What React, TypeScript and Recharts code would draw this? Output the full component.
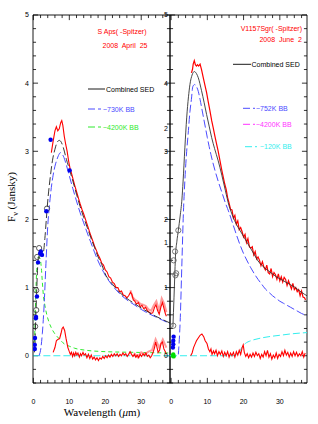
import { ComposedChart, Line, Scatter, XAxis, YAxis, ReferenceLine, ReferenceArea } from "recharts"

// axis ticks (shared by both panels)
const xMajor = [0, 10, 20, 30]
const xMinor = [2, 4, 6, 8, 12, 14, 16, 18, 22, 24, 26, 28, 32, 34, 36]
const yMajor = [0, 1, 2, 3, 4, 5]
const yMinor = [
  -0.4, -0.2, 0.2, 0.4, 0.6, 0.8, 1.2, 1.4, 1.6, 1.8, 2.2, 2.4, 2.6, 2.8,
  3.2, 3.4, 3.6, 3.8, 4.2, 4.4, 4.6, 4.8,
]
// labels printed along the shared middle axis
const dividerTicks = [5, 4, 3.33, 3, 2, 1.66, 1, 0]
const dividerLabels = ["5", "4", "2", "3", "2", "1", "1", "0"]

// ---- S Aps (left panel) ----
const apsSpecWl = [
  5.0, 5.5, 6.0, 6.4, 6.8, 7.2, 7.6, 7.9, 8.2, 8.6, 9.0, 9.4, 9.8, 10.2, 10.6,
  11.0, 11.5, 12.0, 12.5, 13.0, 13.5, 14.0, 14.5, 15.0, 15.5, 16.0, 16.5, 17.0,
  17.5, 18.0, 18.5, 19.0, 19.5, 20.0, 20.5, 21.0, 21.5, 22.0, 22.5, 23.0, 23.5,
  24.0, 24.5, 25.0, 25.5, 26.0, 26.5, 27.0, 27.4, 27.8, 28.2, 28.7, 29.2, 29.7,
  30.2, 30.7, 31.2, 31.7, 32.2, 32.7, 33.2, 33.7, 34.1, 34.5, 35.0, 35.5, 35.9,
  36.3, 36.7, 37.0,
]
const apsSpecFlux = [
  2.98, 3.15, 3.3, 3.36, 3.3, 3.33, 3.42, 3.45, 3.38, 3.22, 3.1, 3.0, 2.86, 2.75,
  2.68, 2.6, 2.5, 2.41, 2.32, 2.23, 2.15, 2.08, 2.0, 1.92, 1.84, 1.76, 1.69, 1.61,
  1.55, 1.48, 1.43, 1.36, 1.33, 1.26, 1.23, 1.16, 1.14, 1.08, 1.06, 1.0, 1.0,
  0.94, 0.95, 0.89, 0.88, 0.85, 0.88, 0.93, 0.9, 0.82, 0.8, 0.76, 0.78, 0.72,
  0.74, 0.69, 0.71, 0.66, 0.64, 0.62, 0.63, 0.71, 0.75, 0.67, 0.61, 0.72, 0.78,
  0.7, 0.62, 0.58,
]
const apsSpecErrWl = [27, 27.6, 28.3, 29, 29.8, 30.5, 31.3, 32, 32.8, 33.5, 34.2, 35, 35.7, 36.4, 37]
const apsSpecErrFlux = [
  0.96, 0.86, 0.82, 0.8, 0.76, 0.75, 0.73, 0.68, 0.66, 0.74, 0.8, 0.66, 0.84, 0.76, 0.64,
]
const apsResidWl = [
  5.5, 6.0, 6.4, 6.8, 7.3, 7.7, 8.0, 8.3, 8.7, 9.1, 9.6, 10.0, 10.3, 10.6, 10.9,
  11.2, 11.5, 11.8, 12.1, 12.4, 12.8, 13.1, 13.4, 13.8, 14.1, 14.5, 14.9, 15.3,
  15.7, 16.1, 16.5, 16.9, 17.3, 17.7, 18.1, 18.5, 18.9, 19.3, 19.7, 20.1, 20.5,
  20.9, 21.3, 21.7, 22.1, 22.5, 22.9, 23.3, 23.7, 24.1, 24.5, 24.9, 25.3, 25.7,
  26.1, 26.5, 26.9, 27.3, 27.7, 28.1, 28.5, 28.9, 29.3, 29.7, 30.1, 30.5, 30.9,
  31.3, 31.7, 32.1, 32.5, 32.9, 33.3, 33.7, 34.0, 34.3, 34.7, 35.1, 35.5, 35.9,
  36.3, 36.7, 37.0,
]
const apsResidFlux = [
  0.05, 0.12, 0.22, 0.24, 0.25, 0.33, 0.4, 0.42, 0.37, 0.25, 0.12, 0.06, 0.02,
  0.05, -0.01, 0.04, 0.0, 0.05, 0.01, 0.04, -0.02, 0.03, 0.0, 0.05, 0.01, 0.03,
  -0.03, 0.02, -0.04, 0.01, -0.05, -0.02, -0.06, -0.03, -0.07, -0.03, -0.05,
  -0.01, -0.04, 0.0, -0.03, 0.01, -0.02, 0.02, -0.01, 0.03, 0.0, 0.03, -0.01,
  0.02, 0.0, 0.04, 0.01, 0.03, -0.01, 0.02, 0.06, 0.02, -0.01, 0.02, -0.02, 0.01,
  -0.03, 0.02, -0.01, 0.03, 0.0, 0.04, -0.01, 0.01, -0.03, 0.0, 0.05, 0.12, 0.2,
  0.14, 0.05, 0.08, 0.18, 0.2, 0.1, 0.06, 0.02,
]
const apsResidErrWl = [28, 29, 30, 31, 32, 33, 34, 35, 36, 37]
const apsResidErrFlux = [0.04, -0.02, 0.05, 0.02, 0.06, 0.08, 0.24, 0.12, 0.24, 0.12]
const apsBb730Wl = [
  1.5, 2.0, 2.5, 3.0, 3.5, 4.0, 4.5, 5.0, 5.5, 6.0, 6.5, 7.0, 7.5, 8.0, 8.5, 9.0,
  10, 11, 12, 13, 14, 15, 16, 17, 18, 19, 20, 22, 24, 26, 28, 30, 32, 34, 36, 38,
]
const apsBb730Flux = [
  0.0, 0.08, 0.33, 0.75, 1.35, 1.9, 2.22, 2.47, 2.65, 2.78, 2.87, 2.94, 2.98,
  2.96, 2.91, 2.83, 2.64, 2.45, 2.27, 2.1, 1.95, 1.8, 1.66, 1.52, 1.39, 1.28,
  1.18, 1.03, 0.91, 0.82, 0.75, 0.68, 0.62, 0.57, 0.52, 0.47,
]
const apsBb4200Wl = [
  0.3, 0.5, 0.7, 1.0, 1.4, 1.9, 2.2, 2.5, 2.8, 3.2, 3.7, 4.3, 5.0, 6.0, 7.0, 8.7,
  10, 11.5, 14.7, 20, 28, 38,
]
const apsBb4200Flux = [
  0.1, 0.55, 0.95, 1.3, 1.45, 1.42, 1.3, 1.08, 0.88, 0.74, 0.61, 0.5, 0.41, 0.32,
  0.26, 0.17, 0.14, 0.11, 0.08, 0.06, 0.05, 0.04,
]
const apsCombinedWl = [
  0.3, 0.5, 0.7, 0.9, 1.1, 1.4, 1.8, 2.2, 2.7, 3.2, 3.6, 4.0, 4.7, 5.3, 6.0, 6.6,
  7.2, 7.8, 8.3, 9.2, 10, 11, 12, 13, 14, 15, 16, 17, 18, 19, 20, 22, 24, 26, 28,
  30, 32, 34, 36, 38,
]
const apsCombinedFlux = [
  0.05, 0.3, 0.6, 0.9, 1.2, 1.45, 1.55, 1.52, 1.5, 1.72, 2.0, 2.27, 2.62, 2.86,
  3.03, 3.13, 3.16, 3.13, 3.06, 2.88, 2.74, 2.56, 2.37, 2.19, 2.03, 1.88, 1.73,
  1.59, 1.45, 1.34, 1.2, 1.05, 0.93, 0.84, 0.77, 0.7, 0.64, 0.58, 0.53, 0.48,
]
const apsZeroWl = [0, 38]
const apsZeroFlux = [0, 0]
const apsDotWl = [0.4, 0.4, 0.45, 0.7, 0.75, 1.0, 1.3, 1.9, 2.1, 2.4, 3.6, 4.8, 10.1]
const apsDotFlux = [0.1, 0.16, 0.26, 0.55, 0.57, 0.87, 1.37, 1.5, 1.53, 1.48, 2.12, 3.17, 2.72]
const apsOpenWl = [0.5, 0.8, 0.8, 1.05, 1.6, 3.8]
const apsOpenFlux = [0.43, 0.67, 0.96, 1.45, 1.58, 2.16]

// ---- V1157 Sgr (right panel) ----
const sgrSpecWl = [
  5.6, 5.9, 6.1, 6.4, 6.7, 7.0, 7.3, 7.6, 8.0, 8.4, 8.8, 9.3, 9.8, 10.2, 10.7,
  11.2, 11.6, 12.1, 12.5, 13.0, 13.5, 14.0, 14.4, 14.8, 15.2, 15.6, 16.0, 16.4,
  16.8, 17.2, 17.6, 18.0, 18.4, 18.8, 19.2, 19.6, 20.0, 20.4, 20.8, 21.2, 21.6,
  22.0, 22.4, 22.8, 23.2, 23.6, 24.0, 24.4, 24.8, 25.2, 25.6, 26.0, 26.4, 26.8,
  27.2, 27.6, 28.0, 28.4, 28.8, 29.2, 29.6, 30.0, 30.4, 30.8, 31.2, 31.6, 32.0,
  32.4, 32.8, 33.2, 33.6, 34.0, 34.4, 34.8, 35.2, 35.6, 36.0, 36.4, 36.8, 37.1,
]
const sgrSpecFlux = [
  4.15, 4.2, 4.28, 4.33, 4.27, 4.25, 4.27, 4.25, 4.28, 4.2, 4.1, 3.98, 3.86, 3.74,
  3.6, 3.45, 3.35, 3.22, 3.12, 3.0, 2.86, 2.72, 2.62, 2.52, 2.44, 2.32, 2.24,
  2.15, 2.14, 2.02, 2.06, 1.93, 1.98, 1.85, 1.88, 1.82, 1.74, 1.78, 1.66, 1.72,
  1.6, 1.58, 1.6, 1.48, 1.53, 1.42, 1.45, 1.4, 1.32, 1.38, 1.3, 1.26, 1.33, 1.22,
  1.2, 1.28, 1.16, 1.22, 1.19, 1.12, 1.2, 1.1, 1.16, 1.08, 1.15, 1.12, 1.03, 1.1,
  1.04, 0.98, 1.06, 0.97, 1.0, 0.94, 0.97, 0.88, 0.95, 0.86, 0.85, 0.82,
]
const sgrResidWl = [
  5.4, 5.8, 6.2, 6.6, 7.0, 7.5, 8.0, 8.5, 9.0, 9.4, 9.9, 10.3, 10.7, 11.0, 11.3,
  11.7, 12.0, 12.4, 12.8, 13.2, 13.6, 14.0, 14.4, 14.8, 15.2, 15.6, 16.0, 16.4,
  16.8, 17.2, 17.6, 18.0, 18.4, 18.8, 19.2, 19.6, 19.9, 20.2, 20.6, 21.0, 21.4,
  21.8, 22.2, 22.6, 23.0, 23.4, 23.8, 24.2, 24.6, 25.0, 25.4, 25.8, 26.2, 26.6,
  27.0, 27.4, 27.8, 28.2, 28.6, 29.0, 29.4, 29.8, 30.2, 30.6, 31.0, 31.4, 31.8,
  32.2, 32.6, 33.0, 33.4, 33.8, 34.2, 34.6, 35.0, 35.4, 35.8, 36.2, 36.6, 37.0,
]
const sgrResidFlux = [
  0.0, 0.04, 0.12, 0.17, 0.22, 0.26, 0.3, 0.32, 0.28, 0.22, 0.18, 0.1, 0.06, 0.1,
  0.02, 0.07, 0.03, 0.08, 0.0, 0.06, 0.02, 0.07, -0.01, 0.05, 0.0, 0.06, -0.02,
  0.04, 0.0, 0.05, -0.02, 0.06, 0.01, 0.08, 0.02, 0.12, 0.16, 0.05, -0.01, 0.03,
  -0.03, 0.02, -0.02, 0.04, -0.01, 0.05, 0.0, 0.03, -0.04, 0.02, -0.02, 0.06,
  0.0, 0.08, -0.02, 0.03, -0.05, 0.01, -0.03, 0.04, -0.04, 0.02, -0.01, 0.06,
  0.0, 0.08, 0.01, 0.05, -0.02, 0.04, -0.01, 0.06, 0.0, 0.05, -0.01, 0.03, 0.0,
  0.06, -0.02, 0.04,
]
const sgrBb752Wl = [
  2.0, 2.5, 3.0, 3.4, 3.8, 4.3, 4.7, 5.2, 5.6, 6.0, 6.5, 7.0, 7.5, 8.0, 8.5, 9.0,
  9.5, 10, 10.5, 11, 11.5, 12, 13, 14, 15, 16, 17, 18, 19, 20, 21, 22, 23, 24, 25,
  26, 27, 28, 29, 30, 31, 32, 33, 34, 35, 36, 37.5,
]
const sgrBb752Flux = [
  0.02, 0.5, 1.39, 2.1, 2.57, 3.0, 3.25, 3.58, 3.76, 3.95, 3.98, 3.95, 3.88, 3.76,
  3.62, 3.48, 3.34, 3.2, 3.07, 2.95, 2.84, 2.74, 2.56, 2.4, 2.24, 2.1, 1.94, 1.78,
  1.63, 1.5, 1.39, 1.29, 1.2, 1.12, 1.05, 0.98, 0.93, 0.88, 0.84, 0.8, 0.77, 0.74,
  0.71, 0.68, 0.65, 0.62, 0.59,
]
const sgrCombinedWl = [
  0.5, 0.8, 1.0, 1.2, 1.6, 2.0, 2.5, 3.0, 3.3, 3.8, 4.3, 4.8, 5.2, 5.8, 6.4, 7.0,
  7.5, 8.4, 9.1, 9.8, 10.5, 11.2, 12, 13, 14, 15, 16, 16.5, 17, 18, 19, 20, 21, 22,
  23, 24, 25, 26, 27, 28, 29, 30, 31, 32, 33, 34, 35, 36, 37.5,
]
const sgrCombinedFlux = [
  0.42, 0.85, 1.15, 1.45, 1.68, 1.84, 2.05, 2.3, 2.55, 3.05, 3.49, 3.8, 3.98,
  4.12, 4.17, 4.14, 4.08, 3.89, 3.72, 3.54, 3.37, 3.2, 3.04, 2.86, 2.65, 2.42,
  2.2, 2.12, 2.05, 1.93, 1.84, 1.75, 1.66, 1.57, 1.48, 1.39, 1.33, 1.28, 1.24,
  1.2, 1.16, 1.13, 1.1, 1.07, 1.04, 1.01, 0.97, 0.93, 0.88,
]
const sgrBb120Wl = [-0.3, 17, 18.5, 19.5, 20.5, 22, 24, 27, 30, 33, 37.5]
const sgrBb120Flux = [0, 0, 0.03, 0.12, 0.18, 0.22, 0.25, 0.28, 0.3, 0.32, 0.34]
const sgrDotWl = [0.5, 0.6, 0.6, 0.7]
const sgrDotFlux = [0.12, 0.17, 0.22, 0.28]
const sgrGreenDotWl = [0.5, 0.6, 0.7]
const sgrGreenDotFlux = [0.0, 0.02, -0.01]
const sgrOpenWl = [0.6, 1.2, 1.4, 0.7, 1.1, 2.0]
const sgrOpenFlux = [0.44, 1.18, 1.21, 1.4, 1.53, 1.84]

const zip = (xs: number[], ys: number[]) => xs.map((x, i) => ({ x, y: ys[i] }))

const yDomain = [-0.4, 5]
const leftXDomain = [-0.1, 38]
const rightXDomain = [-0.3, 37.5]

// tick lengths in data units (x ticks: y-units, y ticks: wavelength units)
const X_MAJOR_LEN = 0.075
const X_MINOR_LEN = 0.045
const Y_MAJOR_LEN = 1.4
const Y_MINOR_LEN = 0.85

const sans = "'Liberation Sans', Arial, sans-serif"
const serif = "'Liberation Serif', 'Times New Roman', serif"
const tickFont = { fontSize: 7, fill: "#000", fontFamily: sans }

const RED = "#ff0000"
const PINK = "#ff9a9a"
const BLUE = "#4b4bff"
const GREEN = "#2eea2e"
const CYAN = "#33eeee"
const MAGENTA = "#ff33ff"

const ids = { xAxisId: "lab", yAxisId: "lab" }

// frame + inward ticks on all four sides
function frame(xDomain: number[]) {
  const [x0, x1] = xDomain
  const [y0, y1] = yDomain
  const seg = (key: string, a: { x: number; y: number }, b: { x: number; y: number }) => (
    <ReferenceLine key={key} {...ids} segment={[a, b]} stroke="#000" strokeWidth={0.8} ifOverflow="visible" />
  )
  const out = [
    <ReferenceArea key="box" {...ids} x1={x0} x2={x1} y1={y0} y2={y1} stroke="#000" strokeWidth={0.9} fill="none" fillOpacity={0} ifOverflow="visible" />,
  ]
  xMajor.forEach((v) => {
    out.push(seg(`xb${v}`, { x: v, y: y0 }, { x: v, y: y0 + X_MAJOR_LEN }))
    out.push(seg(`xt${v}`, { x: v, y: y1 }, { x: v, y: y1 - X_MAJOR_LEN }))
  })
  xMinor.forEach((v) => {
    out.push(seg(`xbm${v}`, { x: v, y: y0 }, { x: v, y: y0 + X_MINOR_LEN }))
    out.push(seg(`xtm${v}`, { x: v, y: y1 }, { x: v, y: y1 - X_MINOR_LEN }))
  })
  yMajor.forEach((v) => {
    out.push(seg(`yl${v}`, { x: x0, y: v }, { x: x0 + Y_MAJOR_LEN, y: v }))
    out.push(seg(`yr${v}`, { x: x1, y: v }, { x: x1 - Y_MAJOR_LEN, y: v }))
  })
  yMinor.forEach((v) => {
    out.push(seg(`ylm${v}`, { x: x0, y: v }, { x: x0 + Y_MINOR_LEN, y: v }))
    out.push(seg(`yrm${v}`, { x: x1, y: v }, { x: x1 - Y_MINOR_LEN, y: v }))
  })
  return out
}

const dot = (fill: string, r: number) => (p: any) => (
  <circle cx={p.cx} cy={p.cy} r={r} fill={fill} />
)
const ring = (stroke: string) => (p: any) => (
  <circle cx={p.cx} cy={p.cy} r={2.6} fill="none" stroke={stroke} strokeWidth={0.8} />
)

function LeftPanel() {
  return (
    <ComposedChart width={318} height={424} margin={{ top: 15, right: 148, bottom: 16, left: 13 }}>
      <XAxis xAxisId="lab" dataKey="x" type="number" domain={leftXDomain} allowDataOverflow orientation="bottom" height={25} ticks={xMajor} interval={0} tickSize={0} tickMargin={16} tickLine={false} axisLine={false} tick={tickFont} />
      <YAxis yAxisId="lab" dataKey="y" type="number" domain={yDomain} allowDataOverflow orientation="left" width={20} ticks={yMajor} interval={0} tickSize={0} tickMargin={4} tickLine={false} axisLine={false} tick={tickFont} />
      {frame(leftXDomain)}
      <Line {...ids} data={zip(apsZeroWl, apsZeroFlux)} dataKey="y" stroke={CYAN} strokeWidth={1} strokeDasharray="7 3" dot={false} isAnimationActive={false} />
      <Line {...ids} data={zip(apsBb4200Wl, apsBb4200Flux)} dataKey="y" type="monotone" stroke={GREEN} strokeWidth={1} strokeDasharray="4 3" dot={false} isAnimationActive={false} />
      <Line {...ids} data={zip(apsSpecErrWl, apsSpecErrFlux)} dataKey="y" stroke={PINK} strokeWidth={2} dot={false} isAnimationActive={false} />
      <Line {...ids} data={zip(apsResidErrWl, apsResidErrFlux)} dataKey="y" stroke={PINK} strokeWidth={2} dot={false} isAnimationActive={false} />
      <Line {...ids} data={zip(apsResidWl, apsResidFlux)} dataKey="y" stroke={RED} strokeWidth={1.1} dot={false} isAnimationActive={false} />
      <Line {...ids} data={zip(apsSpecWl, apsSpecFlux)} dataKey="y" stroke={RED} strokeWidth={1.1} dot={false} isAnimationActive={false} />
      <Line {...ids} data={zip(apsBb730Wl, apsBb730Flux)} dataKey="y" type="monotone" stroke={BLUE} strokeWidth={1} strokeDasharray="8 3" dot={false} isAnimationActive={false} />
      <Line {...ids} data={zip(apsCombinedWl, apsCombinedFlux)} dataKey="y" type="monotone" stroke="#222" strokeWidth={0.9} strokeDasharray="8 3" dot={false} isAnimationActive={false} />
      <Scatter {...ids} data={zip(apsOpenWl, apsOpenFlux)} shape={ring("#333")} isAnimationActive={false} />
      <Scatter {...ids} data={zip(apsDotWl, apsDotFlux)} shape={dot("#0000ee", 2.2)} isAnimationActive={false} />
    </ComposedChart>
  )
}

function RightPanel() {
  return (
    <ComposedChart width={318} height={424} margin={{ top: 15, right: 11, bottom: 16, left: 150 }}>
      <XAxis xAxisId="lab" dataKey="x" type="number" domain={rightXDomain} allowDataOverflow orientation="bottom" height={25} ticks={xMajor} interval={0} tickSize={0} tickMargin={16} tickLine={false} axisLine={false} tick={tickFont} />
      <YAxis
        yAxisId="lab"
        dataKey="y"
        type="number"
        domain={yDomain}
        allowDataOverflow
        orientation="left"
        width={20}
        ticks={dividerTicks}
        interval={0}
        tickSize={0}
        tickMargin={2}
        tickLine={false}
        axisLine={false}
        tick={tickFont}
        tickFormatter={(v: number) => dividerLabels[dividerTicks.indexOf(v)] ?? ""}
      />
      {frame(rightXDomain)}
      <Line {...ids} data={zip(sgrBb120Wl, sgrBb120Flux)} dataKey="y" type="monotone" stroke={CYAN} strokeWidth={1} strokeDasharray="7 3" dot={false} isAnimationActive={false} />
      <Line {...ids} data={zip(sgrResidWl, sgrResidFlux)} dataKey="y" stroke={RED} strokeWidth={1.1} dot={false} isAnimationActive={false} />
      <Line {...ids} data={zip(sgrSpecWl, sgrSpecFlux)} dataKey="y" stroke={RED} strokeWidth={1.2} dot={false} isAnimationActive={false} />
      <Line {...ids} data={zip(sgrBb752Wl, sgrBb752Flux)} dataKey="y" type="monotone" stroke={BLUE} strokeWidth={1} strokeDasharray="8 3" dot={false} isAnimationActive={false} />
      <Line {...ids} data={zip(sgrCombinedWl, sgrCombinedFlux)} dataKey="y" type="monotone" stroke="#333" strokeWidth={0.9} dot={false} isAnimationActive={false} />
      <Scatter {...ids} data={zip(sgrOpenWl, sgrOpenFlux)} shape={ring("#555")} isAnimationActive={false} />
      <Scatter {...ids} data={zip(sgrGreenDotWl, sgrGreenDotFlux)} shape={dot("#00dd00", 2.2)} isAnimationActive={false} />
      <Scatter {...ids} data={zip(sgrDotWl, sgrDotFlux)} shape={dot("#0000ee", 2.2)} isAnimationActive={false} />
    </ComposedChart>
  )
}

function Annotations() {
  const t7 = { fontSize: 7, fontFamily: sans }
  return (
    <svg width={318} height={424} style={{ position: "absolute", left: 0, top: 0 }}>
      {/* left panel */}
      <text x={122} y={34} textAnchor="middle" fill={RED} {...t7}>S Aps( -Spitzer)</text>
      <text x={125} y={47.5} textAnchor="middle" fill={RED} wordSpacing={2} {...t7}>2008 April 25</text>
      <line x1={88} y1={89} x2={105} y2={89} stroke="#000" strokeWidth={0.9} />
      <text x={106} y={91.5} fill="#000" {...t7}>Combined SED</text>
      <line x1={88} y1={109} x2={101} y2={109} stroke={BLUE} strokeDasharray="7 3" />
      <text x={103} y={111.5} fill={BLUE} {...t7}>~730K BB</text>
      <line x1={88} y1={127} x2={101} y2={127} stroke={GREEN} strokeDasharray="7 3" />
      <text x={103} y={129.5} fill={GREEN} {...t7}>~4200K BB</text>
      {/* right panel */}
      <text x={302} y={30.5} textAnchor="end" fill={RED} {...t7}>V1157Sgr( -Spitzer)</text>
      <text x={302} y={42} textAnchor="end" fill={RED} wordSpacing={2} {...t7}>2008 June 2</text>
      <line x1={233} y1={64.3} x2={251} y2={64.3} stroke="#000" strokeWidth={0.9} />
      <text x={251.5} y={66.8} fill="#000" {...t7}>Combined SED</text>
      <line x1={243} y1={108.3} x2={255} y2={108.3} stroke={BLUE} strokeDasharray="7 3" />
      <text x={256} y={110.8} fill={BLUE} {...t7}>~752K BB</text>
      <line x1={243} y1={124.3} x2={255} y2={124.3} stroke={MAGENTA} strokeDasharray="7 3" />
      <text x={256} y={126.8} fill={MAGENTA} {...t7}>~4200K BB</text>
      <line x1={245} y1={146.7} x2={257} y2={146.7} stroke={CYAN} strokeDasharray="7 3" />
      <text x={260} y={149.2} fill={CYAN} {...t7}>~120K BB</text>
      {/* axis titles */}
      <text x={102} y={416} textAnchor="middle" fontSize={11} fontFamily={serif} fill="#000">
        Wavelength (<tspan fontStyle="italic">μ</tspan>m)
      </text>
      <text x={15} y={197} transform="rotate(-90 15 197)" textAnchor="middle" fontSize={11} fontFamily={serif} fill="#000">
        F<tspan dy={2.5} fontSize={8}>ν</tspan>
        <tspan dy={-2.5}> (Jansky)</tspan>
      </text>
    </svg>
  )
}

export default function App() {
  return (
    <div style={{ position: "fixed", left: 0, top: 0, width: 318, height: 424, background: "#fff" }}>
      <div style={{ position: "absolute", left: 0, top: 0 }}>
        <LeftPanel />
      </div>
      <div style={{ position: "absolute", left: 0, top: 0 }}>
        <RightPanel />
      </div>
      <Annotations />
    </div>
  )
}
